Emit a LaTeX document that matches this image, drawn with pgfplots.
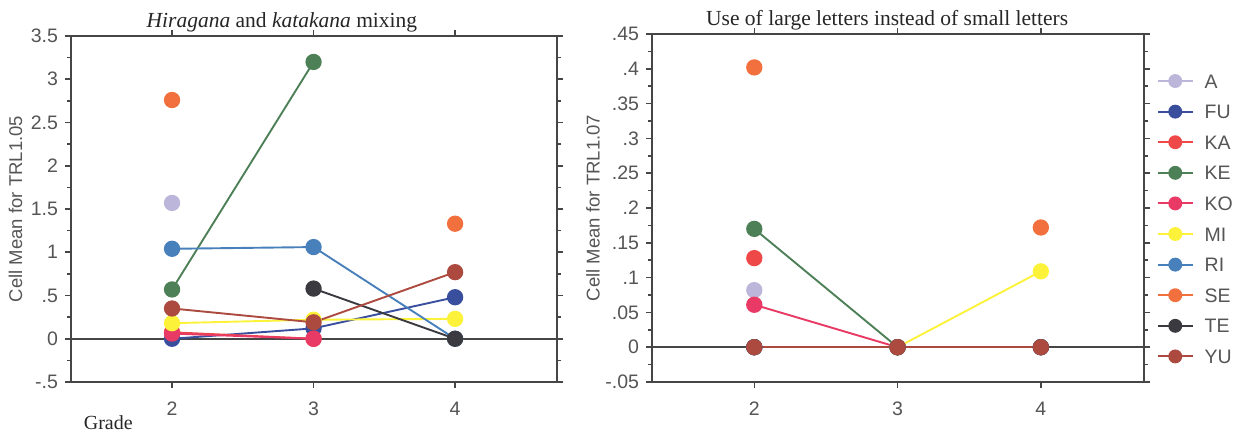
\documentclass[border=0pt]{standalone}
\usepackage{fontspec}
\setmainfont{Liberation Serif}
\setsansfont{Liberation Sans}
\usepackage{pgfplots}
\pgfplotsset{compat=1.18}

% series colours
\definecolor{cA}{RGB}{188,182,218}
\definecolor{cFU}{RGB}{58,78,158}
\definecolor{cKA}{RGB}{238,72,72}
\definecolor{cKE}{RGB}{78,128,88}
\definecolor{cKO}{RGB}{232,58,100}
\definecolor{cMI}{RGB}{252,242,58}
\definecolor{cRI}{RGB}{72,128,188}
\definecolor{cSE}{RGB}{242,112,62}
\definecolor{cTE}{RGB}{58,58,64}
\definecolor{cYU}{RGB}{172,74,64}
\definecolor{frame}{RGB}{70,70,70}
\definecolor{labelgray}{RGB}{85,85,85}

\pgfplotsset{
  panel/.style={
    scale only axis,
    axis line style={frame, line width=0.9pt},
    every tick/.style={frame, line width=0.8pt},
    tick align=outside,
    major tick length=3pt,
    minor tick length=2pt,
    minor y tick num=1,
    xmin=1.286, xmax=4.72,
    xtick={2,3,4}, xticklabels={2,3,4},
    ticklabel style={font=\sffamily\fontsize{9.75}{11}\selectfont, text=labelgray},
    xticklabel style={yshift=-3.5pt},
    ylabel style={font=\sffamily\fontsize{9.25}{10}\selectfont, text=labelgray, rotate=0, anchor=center},
    title style={font=\fontsize{10.75}{12}\selectfont, text=black!85, anchor=base},
    unbounded coords=jump,
    legend image code/.code={%
      \draw[mark repeat=2, mark phase=2, #1, mark size=3pt]
        plot coordinates {(0pt,0pt) (8.75pt,0pt) (17.5pt,0pt)};},
  },
  ser/.style={color=#1, line width=0.95pt, mark=*, mark size=3.6pt,
    mark options={solid, fill=#1, draw=#1}},
  zero/.style={frame, line width=1pt, forget plot},
}

\begin{document}
\begin{tikzpicture}
\useasboundingbox (0,0) rectangle (621pt,217pt);

% Hiragana / katakana mixing
\begin{axis}[panel,
  at={(35.5pt,26pt)}, anchor=south west,
  width=243pt, height=173pt,
  ymin=-0.5, ymax=3.5,
  ytick={-0.5,0,0.5,1,1.5,2,2.5,3,3.5},
  yticklabels={-.5,0,.5,1,1.5,2,2.5,3,3.5},
  ylabel={Cell Mean for TRL1.05},
  ylabel style={at={(axis description cs:-0.114,0.5)}},
  title={\textit{Hiragana} and \textit{katakana} mixing},
  title style={at={(axis description cs:0.434,1)}, yshift=-1.5pt},
  xlabel={Grade},
  xlabel style={at={(axis description cs:0.012,-0.138)}, anchor=base west,
    font=\fontsize{10}{12}\selectfont, text=black!85},
]
\addplot[zero] coordinates {(1.286,0) (4.72,0)};
\addplot[ser=cA]  coordinates {(2,1.57)};
\addplot[ser=cFU] coordinates {(2,0) (3,0.12) (4,0.48)};
\addplot[ser=cKA] coordinates {(2,0.075) (3,0)};
\addplot[ser=cKE] coordinates {(2,0.57) (3,3.2)};
\addplot[ser=cKO] coordinates {(2,0.06) (3,0)};
\addplot[ser=cMI] coordinates {(2,0.18) (3,0.22) (4,0.23)};
\addplot[ser=cRI] coordinates {(2,1.04) (3,1.06) (4,0)};
\addplot[ser=cSE] coordinates {(2,2.76) (3,nan) (4,1.33)};
\addplot[ser=cTE] coordinates {(3,0.58) (4,0)};
\addplot[ser=cYU] coordinates {(2,0.35) (3,0.19) (4,0.77)};
\end{axis}

% Use of large letters instead of small letters
\begin{axis}[panel,
  at={(326pt,26pt)}, anchor=south west,
  width=246pt, height=174pt,
  ymin=-0.05, ymax=0.45,
  ytick={-0.05,0,0.05,0.1,0.15,0.2,0.25,0.3,0.35,0.4,0.45},
  yticklabels={-.05,0,.05,.1,.15,.2,.25,.3,.35,.4,.45},
  ylabel={Cell Mean for TRL1.07},
  ylabel style={at={(axis description cs:-0.12,0.5)}},
  title={Use of large letters instead of small letters},
  title style={at={(axis description cs:0.478,1)}, yshift=-1.5pt},
  legend style={at={(axis description cs:1.026,0.885)}, anchor=north west,
    draw=none, fill=none, inner sep=0pt, outer sep=0pt,
    font=\sffamily\fontsize{9.75}{10}\selectfont, text=labelgray,
    row sep=8.3pt,
    nodes={inner sep=0pt, text height=7pt, text depth=0pt},
    /tikz/every odd column/.append style={column sep=5.5pt}},
  legend cell align=left,
]
\addplot[zero] coordinates {(1.27,0) (4.71,0)};
\addplot[ser=cA]  coordinates {(2,0.082)};
\addlegendentry{A}
\addplot[ser=cFU] coordinates {(2,0) (3,0) (4,0)};
\addlegendentry{FU}
\addplot[ser=cKA] coordinates {(2,0.128)};
\addlegendentry{KA}
\addplot[ser=cKE] coordinates {(2,0.17) (3,0)};
\addlegendentry{KE}
\addplot[ser=cKO] coordinates {(2,0.061) (3,0)};
\addlegendentry{KO}
\addplot[ser=cMI] coordinates {(3,0) (4,0.109)};
\addlegendentry{MI}
\addplot[ser=cRI] coordinates {(2,0) (3,0) (4,0)};
\addlegendentry{RI}
\addplot[ser=cSE] coordinates {(2,0.402) (3,nan) (4,0.172)};
\addlegendentry{SE}
\addplot[ser=cTE] coordinates {(2,0) (3,0) (4,0)};
\addlegendentry{TE}
\addplot[ser=cYU] coordinates {(2,0) (3,0) (4,0)};
\addlegendentry{YU}
\end{axis}
\end{tikzpicture}
\end{document}
